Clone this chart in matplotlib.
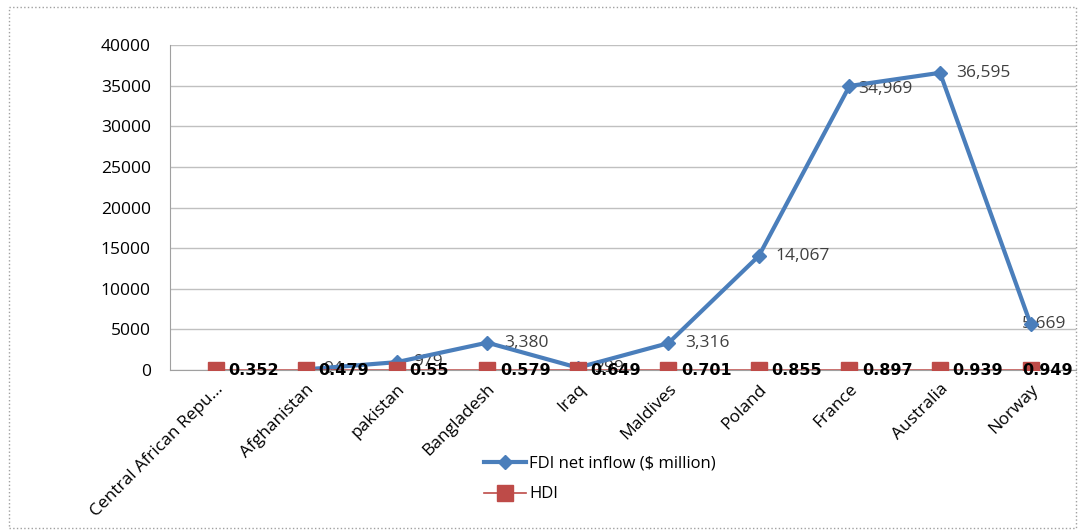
import numpy as np
import matplotlib
matplotlib.use("Agg")
import matplotlib.pyplot as plt
from matplotlib.patches import Rectangle

plt.rcParams['font.family'] = ['Open Sans', 'DejaVu Sans']

# data
countries = ["Central African Repu...", "Afghanistan", "pakistan", "Bangladesh", "Iraq",
             "Maldives", "Poland", "France", "Australia", "Norway"]
fdi = [np.nan, 94, 979, 3380, 299, 3316, 14067, 34969, 36595, 5669]
hdi = [0.352, 0.479, 0.55, 0.579, 0.649, 0.701, 0.855, 0.897, 0.939, 0.949]
yticks = [0, 5000, 10000, 15000, 20000, 25000, 30000, 35000, 40000]

blue = "#4a7ebb"
red = "#be4b48"

fig = plt.figure(figsize=(10.78, 5.31), dpi=100)
ax = fig.add_axes([0.158, 0.303, 0.84, 0.612])
fig.patches.append(Rectangle((0.008, 0.006), 0.99, 0.98, transform=fig.transFigure,
                             fill=False, edgecolor="#a0a0a0", linewidth=1, linestyle=":"))

x = np.arange(len(countries))
ax.plot(x, fdi, color=blue, linewidth=3, marker="D", markersize=7,
        label="FDI net inflow ($ million)", zorder=3)
ax.plot(x, hdi, color=red, linewidth=1.2, marker="s", markersize=11,
        label="HDI", zorder=4)

for i, v in enumerate(fdi):
    if np.isnan(v):
        continue
    dx, dy = 12, 0
    if countries[i] == "France":
        dx, dy = 6, -2
    if countries[i] == "Norway":
        dx, dy = -6, 0
    ax.annotate(f"{v:,.0f}", (i, v), xytext=(dx, dy), textcoords="offset points",
                ha="left", va="center", fontsize=12.5, color="#404040", zorder=2)

for i, v in enumerate(hdi):
    dx = -6 if i == len(hdi) - 1 else 9
    ax.annotate(f"{v:g}", (i, v), xytext=(dx, 0), textcoords="offset points",
                ha="left", va="center", fontsize=11.5, fontweight="bold",
                family="DejaVu Sans", color="black", zorder=5)

ax.set_xlim(-0.5, len(countries) - 0.5)
ax.set_ylim(0, 40000)
ax.set_yticks(yticks)
ax.set_yticklabels([str(t) for t in yticks], fontsize=12.5)
ax.yaxis.grid(True, color="#c0c0c0", linewidth=1)
ax.set_axisbelow(True)
ax.set_xticks(x)
ax.set_xticklabels(countries, rotation=45, ha="right", rotation_mode="anchor", fontsize=12.5)
ax.tick_params(axis="both", length=0, pad=14)
ax.tick_params(axis="x", pad=8)
for s in ["top", "right"]:
    ax.spines[s].set_visible(False)
ax.spines["left"].set_color("#a0a0a0")
ax.spines["bottom"].set_color("#a0a0a0")

fig.legend(loc="upper left", bbox_to_anchor=(0.443, 0.155), frameon=False,
           fontsize=12, handlelength=2.5, labelspacing=0.9, handletextpad=0.2,
           borderaxespad=0)

fig.savefig("out.png", dpi=100)
